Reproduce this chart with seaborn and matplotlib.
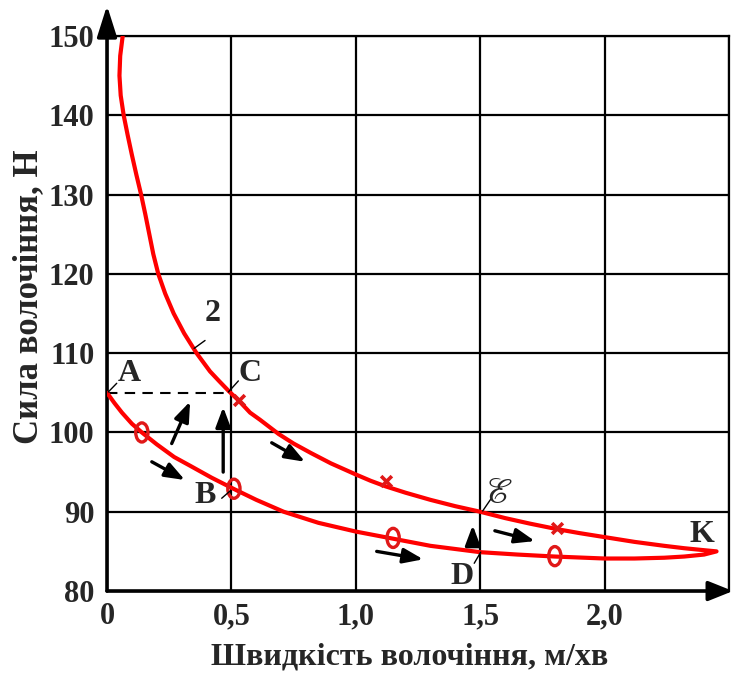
import numpy as np
import pandas as pd
import matplotlib
matplotlib.use("Agg")
import matplotlib.pyplot as plt
import seaborn as sns
from matplotlib.path import Path
from matplotlib.transforms import Affine2D

# lower branch: A -> K (speed m/min, force N)
lower_v = [0.0, 0.03, 0.06, 0.10, 0.14, 0.20, 0.27, 0.334, 0.42, 0.508, 0.60, 0.71,
           0.85, 1.00, 1.15, 1.30, 1.50, 1.65, 1.80, 2.00, 2.12, 2.24, 2.32, 2.40, 2.45]
lower_f = [105.0, 103.7, 102.5, 101.1, 100.0, 98.5, 96.9, 95.8, 94.3, 92.9, 91.5, 90.0,
           88.6, 87.5, 86.6, 85.7, 84.9, 84.6, 84.35, 84.1, 84.1, 84.2, 84.35, 84.6, 85.0]

# upper branch (curve 2): K -> top
upper_v = [2.45, 2.40, 2.32, 2.24, 2.12, 2.00, 1.90, 1.81, 1.70, 1.60, 1.50, 1.40,
           1.30, 1.20, 1.12, 1.06, 1.00, 0.90, 0.82, 0.75, 0.69, 0.615, 0.575, 0.53,
           0.49, 0.45, 0.414, 0.36, 0.310, 0.268, 0.234, 0.206, 0.186, 0.170, 0.154,
           0.137, 0.118, 0.100, 0.083, 0.067, 0.055, 0.050, 0.053, 0.063]
upper_f = [85.0, 85.15, 85.4, 85.7, 86.2, 86.8, 87.3, 87.8, 88.5, 89.2, 90.0, 90.7,
           91.5, 92.4, 93.2, 93.9, 94.7, 96.1, 97.4, 98.6, 99.8, 101.6, 102.5, 104.0,
           105.2, 106.5, 107.7, 110.0, 112.5, 115.0, 117.5, 120.0, 122.5, 125.0, 127.5,
           130.0, 132.5, 135.0, 137.5, 140.0, 142.5, 145.0, 147.5, 150.0]

# measured points
o_v = [0.14, 0.51, 1.15, 1.80]
o_f = [100.0, 92.9, 86.7, 84.4]
x_v = [0.53, 1.12, 1.81]
x_f = [104.1, 93.9, 87.9]

# point labels with leader lines
lbl_text = ["A", "C", "B", "2", "ℰ", "D", "K"]
lbl_v = [0.09, 0.575, 0.394, 0.425, 1.575, 1.426, 2.39]
lbl_f = [107.4, 107.4, 92.0, 115.0, 92.4, 81.8, 87.1]
lead_v0 = [0.005, 0.488, 0.461, 0.350, 1.510, 1.476]
lead_f0 = [105.1, 105.1, 91.7, 110.6, 90.1, 83.5]
lead_v1 = [0.039, 0.528, 0.494, 0.394, 1.545, 1.502]
lead_f1 = [106.2, 106.5, 92.6, 111.6, 91.7, 84.9]

# direction arrows (start -> end)
arr_v0 = [0.18, 0.26, 0.467, 0.662, 1.084, 1.47, 1.559]
arr_f0 = [96.3, 98.6, 95.0, 98.7, 85.0, 85.9, 87.6]
arr_v1 = [0.313, 0.334, 0.467, 0.796, 1.271, 1.47, 1.72]
arr_f1 = [94.0, 103.9, 103.2, 96.3, 84.0, 88.3, 86.3]

xticks = [0, 0.5, 1.0, 1.5, 2.0, 2.5]
xtick_labels = ["0", "0,5", "1,0", "1,5", "2,0", ""]
yticks = [80, 90, 100, 110, 120, 130, 140, 150]

sns.set_style("white")
plt.rcParams["font.family"] = ["Liberation Serif", "DejaVu Serif"]
plt.rcParams["font.weight"] = "bold"

path_df = pd.DataFrame({"v": lower_v + upper_v, "f": lower_f + upper_f})
o_df = pd.DataFrame({"v": o_v, "f": o_f})
x_df = pd.DataFrame({"v": x_v, "f": x_f})

fig = plt.figure(figsize=(7.33, 6.73), dpi=100)
ax = fig.add_axes([0.146, 0.1218, 0.8485, 0.8247])

ax.set_xlim(0, 2.5)
ax.set_ylim(80, 150)
ax.set_xticks(xticks)
ax.set_xticklabels(xtick_labels)
ax.set_yticks(yticks)
ax.grid(True, color="black", lw=1.6)
ax.set_axisbelow(True)
for s in ["top", "right"]:
    ax.spines[s].set_color("black")
    ax.spines[s].set_linewidth(1.6)
for s in ["left", "bottom"]:
    ax.spines[s].set_visible(False)

# axis arrows
ax.annotate("", xy=(0, 1.055), xytext=(0, 0), xycoords="axes fraction",
            arrowprops=dict(arrowstyle="-|>,head_length=1.9,head_width=0.6",
                            lw=2.6, color="black", shrinkA=0, shrinkB=0,
                            mutation_scale=10),
            annotation_clip=False)
ax.annotate("", xy=(1.0065, 0), xytext=(0, 0), xycoords="axes fraction",
            arrowprops=dict(arrowstyle="-|>,head_length=1.5,head_width=0.6",
                            lw=2.6, color="black", shrinkA=0, shrinkB=0,
                            mutation_scale=10),
            annotation_clip=False)

# dashed A-C line
ax.plot([lower_v[0], 0.5], [lower_f[0], lower_f[0]], ls=(0, (5, 3.5)), color="black", lw=1.5)

sns.lineplot(data=path_df, x="v", y="f", sort=False, estimator=None,
             color="#ff0000", lw=3, ax=ax, zorder=3,
             solid_joinstyle="round", solid_capstyle="round")

ell = Path.unit_circle().transformed(Affine2D().scale(0.64, 1.0))
sns.scatterplot(data=o_df, x="v", y="f", marker=ell, s=190, facecolor="none",
                edgecolor="#e01818", linewidth=2.4, ax=ax, zorder=4)
sns.scatterplot(data=x_df, x="v", y="f", marker="x", s=60, color="#e01818",
                linewidth=2.6, ax=ax, zorder=4)

for a0, b0, a1, b1 in zip(lead_v0, lead_f0, lead_v1, lead_f1):
    ax.plot([a0, a1], [b0, b1], color="black", lw=1.0, zorder=5)
for t, a, b in zip(lbl_text, lbl_v, lbl_f):
    if t == "ℰ":
        ax.text(a, b, t, fontsize=25, family=["STIXGeneral", "DejaVu Serif"],
                fontweight="normal", fontstyle="italic", ha="center", va="center", zorder=6)
    else:
        ax.text(a, b, t, fontsize=23, fontweight="bold", ha="center", va="center",
                zorder=6)

for a0, b0, a1, b1 in zip(arr_v0, arr_f0, arr_v1, arr_f1):
    ax.annotate("", xy=(a1, b1), xytext=(a0, b0),
                arrowprops=dict(arrowstyle="-|>,head_length=1.2,head_width=0.45",
                                lw=2.4, color="black", shrinkA=0, shrinkB=0,
                                mutation_scale=10), zorder=5)

ax.tick_params(length=0, labelsize=22)
ax.tick_params(axis="x", pad=8)
ax.tick_params(axis="y", pad=9)
ax.set_xlabel("Швидкість волочіння, м/хв", fontsize=23, fontweight="bold")
ax.set_ylabel("Сила волочіння, Н", fontsize=25, fontweight="bold")
ax.xaxis.set_label_coords(0.487, -0.092)
ax.yaxis.set_label_coords(-0.1, 0.53)

fig.savefig("out.png", dpi=100)
